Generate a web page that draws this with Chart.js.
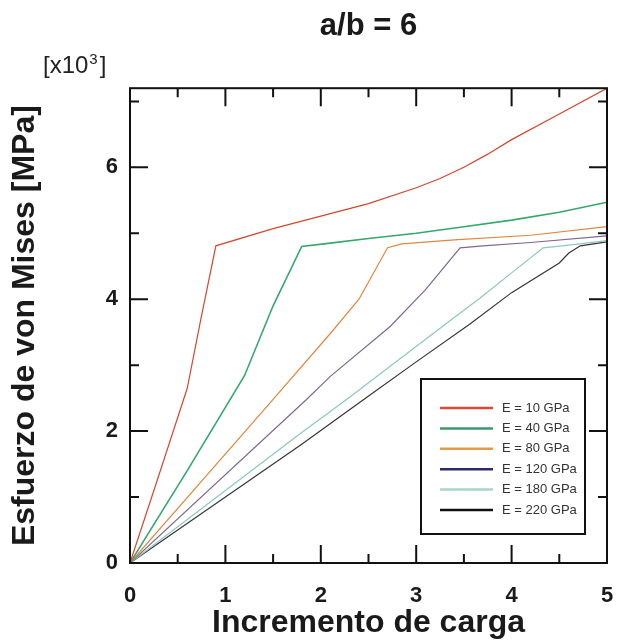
<!DOCTYPE html>
<html>
<head>
<meta charset="utf-8">
<script src="https://cdn.jsdelivr.net/npm/chart.js@4.4.0/dist/chart.umd.min.js"></script>
<style>
  html, body { margin: 0; padding: 0; background: #fff; }
  #wrap { width: 617px; height: 644px; }
</style>
</head>
<body>
<div id="wrap"><canvas id="chart" width="617" height="644"></canvas></div>
<script>
const FONT = '"Liberation Sans", Arial, Helvetica, sans-serif';

// series labels and colours (thin plot line / thicker legend line)
const seriesLabels = ['E = 10 GPa', 'E = 40 GPa', 'E = 80 GPa', 'E = 120 GPa', 'E = 180 GPa', 'E = 220 GPa'];
const lineColors = ['#d4472f', '#35a86c', '#e0873e', '#7e6795', '#8cc7c1', '#3a3434'];
const legendColors = ['#d44a3a', '#3a9a6e', '#e29a48', '#2c2a6e', '#a8d4cc', '#111111'];

// load increment (x) and von Mises stress in MPa x10^3 (y)
const load10 = [0, 0.3, 0.6, 0.75, 0.9, 1.5, 2.0, 2.5, 3.0, 3.25, 3.5, 3.75, 4.0, 4.5, 5.0];
const stress10 = [0, 1.32, 2.65, 3.75, 4.81, 5.07, 5.26, 5.45, 5.69, 5.83, 6.0, 6.2, 6.42, 6.81, 7.2];

const load40 = [0, 0.6, 1.2, 1.5, 1.8, 2.1, 2.5, 3.0, 3.5, 4.0, 4.5, 5.0];
const stress40 = [0, 1.4, 2.84, 3.9, 4.8, 4.85, 4.92, 5.0, 5.1, 5.2, 5.32, 5.47];

const load80 = [0, 1.5, 2.1, 2.4, 2.7, 2.85, 3.4, 4.2, 5.0];
const stress80 = [0, 2.48, 3.48, 4.0, 4.78, 4.84, 4.9, 4.97, 5.1];

const load120 = [0, 1.85, 2.1, 2.73, 3.1, 3.46, 3.7, 4.2, 5.0];
const stress120 = [0, 2.48, 2.83, 3.59, 4.15, 4.78, 4.81, 4.86, 4.96];

const load180 = [0, 1.8, 2.27, 3.35, 3.67, 4.0, 4.33, 4.6, 5.0];
const stress180 = [0, 1.98, 2.48, 3.67, 4.02, 4.4, 4.78, 4.82, 4.89];

const load220 = [0, 1.8, 2.45, 3.0, 3.56, 4.0, 4.5, 4.6, 4.72, 5.0];
const stress220 = [0, 1.8, 2.48, 3.05, 3.62, 4.1, 4.55, 4.7, 4.81, 4.87];

const xTicks = [0, 1, 2, 3, 4, 5];
const xMinorTicks = [0.5, 1.5, 2.5, 3.5, 4.5];
const yTicks = [0, 2, 4, 6];
const yMinorTicks = [1, 3, 5, 7];

const loads = [load10, load40, load80, load120, load180, load220];
const stresses = [stress10, stress40, stress80, stress120, stress180, stress220];

const datasets = seriesLabels.map((label, i) => ({
  label,
  data: loads[i].map((x, j) => ({ x, y: stresses[i][j] })),
  borderColor: lineColors[i],
  legendColor: legendColors[i],
  borderWidth: i === 1 ? 1.6 : 1.2,
  pointRadius: 0,
  tension: 0,
  fill: false,
}));

// box, inward ticks on all four sides, legend and the x10^3 multiplier
const frameTicks = {
  id: 'frameTicks',
  afterDraw(chart) {
    const { ctx, chartArea: a, scales: { x, y } } = chart;
    ctx.save();
    ctx.strokeStyle = '#111';
    ctx.lineWidth = 2;
    ctx.strokeRect(a.left, a.top, a.right - a.left, a.bottom - a.top);

    ctx.beginPath();
    const xMarks = xTicks.slice(1, -1).map(v => [v, 18]).concat(xMinorTicks.map(v => [v, 9]));
    xMarks.forEach(([v, len]) => {
      const px = x.getPixelForValue(v);
      ctx.moveTo(px, a.bottom); ctx.lineTo(px, a.bottom - len);
      ctx.moveTo(px, a.top); ctx.lineTo(px, a.top + len);
    });
    const yMarks = yTicks.slice(1).map(v => [v, 18]).concat(yMinorTicks.map(v => [v, 9]));
    yMarks.forEach(([v, len]) => {
      const py = y.getPixelForValue(v);
      ctx.moveTo(a.left, py); ctx.lineTo(a.left + len, py);
      ctx.moveTo(a.right, py); ctx.lineTo(a.right - len, py);
    });
    ctx.stroke();

    // legend box
    const bx = a.right - 186, by = a.bottom - 184, bw = 164, bh = 155;
    ctx.fillStyle = '#fff';
    ctx.fillRect(bx, by, bw, bh);
    ctx.strokeRect(bx, by, bw, bh);
    ctx.font = '13px ' + FONT;
    ctx.textBaseline = 'middle';
    ctx.textAlign = 'left';
    chart.data.datasets.forEach((ds, i) => {
      const ly = by + 29 + i * 20.4;
      ctx.beginPath();
      ctx.strokeStyle = ds.legendColor;
      ctx.lineWidth = 2.5;
      ctx.moveTo(bx + 19, ly); ctx.lineTo(bx + 72, ly);
      ctx.stroke();
      ctx.fillStyle = '#333';
      ctx.fillText(ds.label, bx + 81, ly);
    });

    // [x10^3]
    ctx.fillStyle = '#222';
    ctx.textBaseline = 'alphabetic';
    ctx.font = '24px ' + FONT;
    let tx = 43;
    const base = 73;
    ctx.fillText('[x10', tx, base);
    tx += ctx.measureText('[x10').width + 1;
    ctx.font = '15px ' + FONT;
    ctx.fillText('3', tx, base - 9);
    tx += ctx.measureText('3').width + 2;
    ctx.font = '24px ' + FONT;
    ctx.fillText(']', tx, base);
    ctx.restore();
  }
};

Chart.defaults.color = '#1a1a1a';

new Chart(document.getElementById('chart'), {
  type: 'line',
  data: { datasets },
  options: {
    responsive: false,
    animation: false,
    layout: { padding: { left: 0, right: 10, top: 0, bottom: 0 } },
    plugins: {
      legend: { display: false },
      tooltip: { enabled: false },
      title: {
        display: true,
        fullSize: false,
        text: 'a/b = 6',
        font: { family: FONT, size: 31, weight: 'bold' },
        color: '#1a1a1a',
        padding: { top: 8, bottom: 43 },
      },
    },
    scales: {
      x: {
        type: 'linear',
        min: 0,
        max: 5,
        afterBuildTicks: s => { s.ticks = xTicks.map(v => ({ value: v })); },
        afterFit: s => { s.height = 81; s.paddingLeft = 0; s.paddingRight = 0; },
        grid: { display: false, drawTicks: false },
        border: { display: false },
        ticks: {
          font: { family: FONT, size: 22, weight: 'bold' },
          color: '#1a1a1a',
          padding: 20,
          maxRotation: 0,
        },
        title: {
          display: true,
          text: 'Incremento de carga',
          font: { family: FONT, size: 32, weight: 'bold' },
          color: '#1a1a1a',
          padding: { top: 0, bottom: 2 },
        },
      },
      y: {
        type: 'linear',
        min: 0,
        max: 7.2,
        afterBuildTicks: s => { s.ticks = yTicks.map(v => ({ value: v })); },
        afterFit: s => { s.width = 130; s.paddingTop = 0; s.paddingBottom = 0; },
        grid: { display: false, drawTicks: false },
        border: { display: false },
        ticks: {
          font: { family: FONT, size: 22, weight: 'bold' },
          color: '#1a1a1a',
          padding: 12,
        },
        title: {
          display: true,
          text: 'Esfuerzo de von Mises [MPa]',
          font: { family: FONT, size: 32, weight: 'bold' },
          color: '#1a1a1a',
          padding: { top: 6, bottom: 0 },
        },
      },
    },
  },
  plugins: [frameTicks],
});
</script>
</body>
</html>
